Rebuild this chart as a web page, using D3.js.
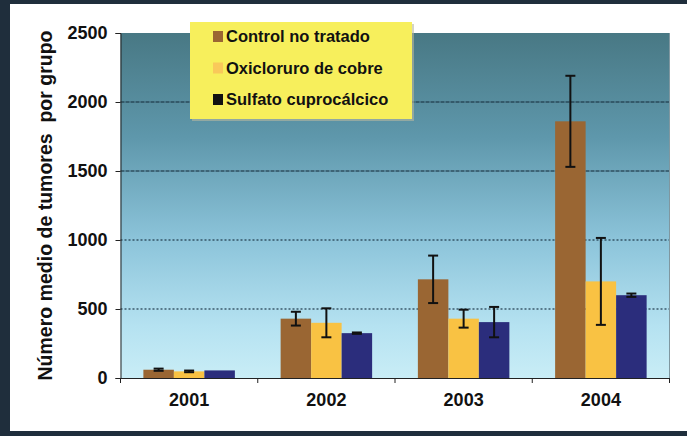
<!DOCTYPE html>
<html>
<head>
<meta charset="utf-8">
<script src="https://cdn.jsdelivr.net/npm/d3@7"></script>
<style>
html,body{margin:0;padding:0;background:#fff;}
svg{display:block;}
text{font-family:"Liberation Sans",Arial,sans-serif;font-weight:bold;fill:#111;}
</style>
</head>
<body>
<script>
const years = ["2001", "2002", "2003", "2004"];
const seriesNames = ["Control no tratado", "Oxicloruro de cobre", "Sulfato cuprocálcico"];
const control = [60, 430, 715, 1860];
const controlErr = [8, 50, 172, 330];
const oxicloruro = [48, 400, 430, 700];
const oxicloruroErr = [6, 105, 65, 315];
const sulfato = [55, 325, 405, 600];
const sulfatoErr = [0, 5, 110, 12];
const yTicks = [0, 500, 1000, 1500, 2000, 2500];
const colors = ["#9a6633", "#f9c243", "#2b2d7c"];
const legendSwatch = ["#9a6633", "#f9c95a", "#111111"];

(function(){
const W = 687, H = 436;
const svg = d3.select("body").append("svg").attr("width", W).attr("height", H);

// frame
svg.append("rect").attr("x",0).attr("y",0).attr("width",W).attr("height",H).attr("fill","#1f2e3c");
svg.append("rect").attr("x",10).attr("y",4).attr("width",W-10).attr("height",427).attr("fill","#ffffff");

const pL = 120.5, pR = 669.5, pT = 33, pB = 378;
const x0 = d3.scaleBand().domain(years).range([pL, pR]).padding(0);
const x1 = d3.scaleBand().domain(seriesNames).range([0, x0.bandwidth()]).paddingInner(0).paddingOuter(0.75);
const y = d3.scaleLinear().domain([0, 2500]).range([pB, pT]);

const defs = svg.append("defs");
const grad = defs.append("linearGradient").attr("id","bg").attr("x1",0).attr("y1",0).attr("x2",0).attr("y2",1);
[[0,"#487884"],[0.3,"#5e97ab"],[0.6,"#8cc4da"],[0.85,"#b5e2f1"],[1,"#c9edf6"]].forEach(s=>
  grad.append("stop").attr("offset",s[0]).attr("stop-color",s[1]));

svg.append("rect").attr("x",pL).attr("y",pT).attr("width",pR-pL).attr("height",pB-pT).attr("fill","url(#bg)");

// gridlines
svg.append("g").selectAll("line").data(yTicks.filter(d=>d>0 && d<2500)).join("line")
  .attr("x1",pL).attr("x2",pR).attr("y1",d=>y(d)).attr("y2",d=>y(d))
  .attr("stroke","#1f3a4a").attr("stroke-width",1.5).attr("stroke-dasharray",d=>d>=1500?"4,1":"2,2").attr("opacity",0.8);

// plot border right
svg.append("line").attr("x1",pR).attr("x2",pR).attr("y1",pT).attr("y2",pB).attr("stroke","#7f97a0").attr("stroke-width",1);

const data = years.map((yr,i)=>({year:yr, vals:[
  {s:seriesNames[0], v:control[i], e:controlErr[i], c:colors[0]},
  {s:seriesNames[1], v:oxicloruro[i], e:oxicloruroErr[i], c:colors[1]},
  {s:seriesNames[2], v:sulfato[i], e:sulfatoErr[i], c:colors[2]}
]}));

const groups = svg.append("g").selectAll("g").data(data).join("g")
  .attr("transform", d=>`translate(${x0(d.year)},0)`);
groups.selectAll("rect").data(d=>d.vals).join("rect")
  .attr("x", d=>x1(d.s)).attr("width", x1.bandwidth())
  .attr("y", d=>y(d.v)).attr("height", d=>y(0)-y(d.v))
  .attr("fill", d=>d.c);

// error bars
const eb = groups.selectAll("g.err").data(d=>d.vals.filter(v=>v.e>0)).join("g").attr("class","err");
const cx = d=>x1(d.s)+x1.bandwidth()/2;
eb.append("line").attr("x1",cx).attr("x2",cx)
  .attr("y1",d=>y(d.v+d.e)).attr("y2",d=>y(d.v-d.e)).attr("stroke","#111").attr("stroke-width",2);
eb.append("line").attr("x1",d=>cx(d)-5).attr("x2",d=>cx(d)+5)
  .attr("y1",d=>y(d.v+d.e)).attr("y2",d=>y(d.v+d.e)).attr("stroke","#111").attr("stroke-width",2);
eb.append("line").attr("x1",d=>cx(d)-5).attr("x2",d=>cx(d)+5)
  .attr("y1",d=>y(d.v-d.e)).attr("y2",d=>y(d.v-d.e)).attr("stroke","#111").attr("stroke-width",2);

// axes
const yAxis = d3.axisLeft(y).tickValues(yTicks).tickFormat(d3.format("d")).tickSize(5).tickPadding(8);
const gy = svg.append("g").attr("transform",`translate(${pL},0)`).call(yAxis);
gy.select(".domain").attr("stroke","#222").attr("stroke-width",1);
gy.selectAll(".tick line").attr("stroke","#222");
gy.selectAll(".tick text").style("font-size","18px").attr("fill","#111");

const xAxis = d3.axisBottom(x0).tickSize(0).tickPadding(15);
const gx = svg.append("g").attr("transform",`translate(0,${pB})`).call(xAxis);
gx.select(".domain").attr("stroke","#222");
gx.selectAll(".tick text").style("font-size","18px").attr("fill","#111");
// category boundary ticks
svg.append("g").selectAll("line").data(years.concat(["end"])).join("line")
  .attr("x1",(d,i)=> i<years.length ? x0(d) : pR).attr("x2",(d,i)=> i<years.length ? x0(d) : pR)
  .attr("y1",pB).attr("y2",pB+5).attr("stroke","#222");

// y title
svg.append("text").attr("transform",`translate(52,${(pT+pB)/2}) rotate(-90)`)
  .attr("text-anchor","middle").style("font-size","19.5px").style("white-space","pre")
  .text("Número medio de tumores  por grupo");

// legend
const lg = svg.append("g");
lg.append("rect").attr("x",192).attr("y",24).attr("width",222).attr("height",97).attr("fill","#b8b8a0").attr("opacity",0.6);
lg.append("rect").attr("x",190).attr("y",22).attr("width",222).attr("height",97).attr("fill","#f7ef5c");
const li = lg.selectAll("g.it").data(seriesNames).join("g").attr("class","it")
  .attr("transform",(d,i)=>`translate(213,${42+i*31.5})`);
li.append("rect").attr("x",0).attr("y",-11).attr("width",10).attr("height",11).attr("fill",(d,i)=>legendSwatch[i]);
li.append("text").attr("x",13).attr("y",0).style("font-size","16.5px").text(d=>d);
})();
</script>
</body>
</html>
